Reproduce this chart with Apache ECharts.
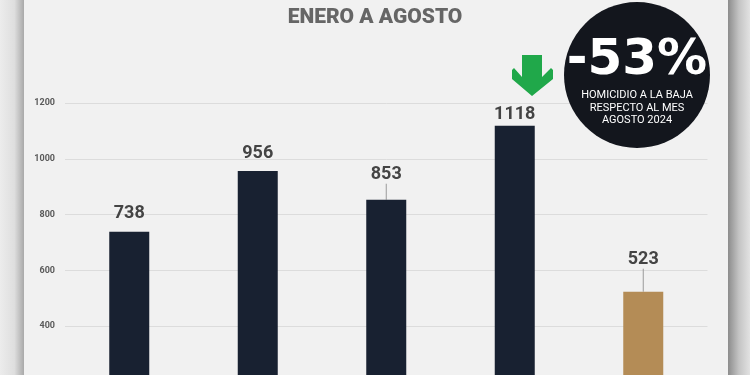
<!DOCTYPE html>
<html>
<head>
<meta charset="utf-8">
<style>
  html, body { margin: 0; padding: 0; background: #f1f1f1; }
  #chart { width: 750px; height: 375px; }
</style>
<script src="https://cdn.jsdelivr.net/npm/echarts@6/dist/echarts.min.js"></script>
</head>
<body>
<div id="chart"></div>
<script>
// ---- data ----
const categories = ['2021', '2022', '2023', '2024', '2025'];
const homicidios = [738, 956, 853, 1118, 523];
const yTickLabels = ['0', '200', '400', '600', '800', '1000', '1200'];
const titleText = 'ENERO A AGOSTO';
const badgeValue = '-53%';
const badgeLines = ['HOMICIDIO A LA BAJA', 'RESPECTO AL MES', 'AGOSTO 2024'];

// ---- style ----
const NAVY = '#182131';
const GOLD = '#b48c56';
const labelShift = [7, 7, 14, 0, 21];
const leaderLine = [false, false, true, false, true];
const highlightIndex = 4;

const chart = echarts.init(document.getElementById('chart'), null, { renderer: 'canvas' });

const barData = homicidios.map((v, i) => ({
  value: v,
  itemStyle: { color: i === highlightIndex ? GOLD : NAVY },
  labelLine: { show: leaderLine[i] }
}));

const option = {
  backgroundColor: '#f1f1f1',
  animation: false,
  title: {
    text: titleText,
    left: 'center',
    top: 2,
    textStyle: { fontFamily: 'Roboto', fontWeight: 900, fontSize: 21, color: '#666666' }
  },
  grid: { left: 65, right: 42.5, top: 103, bottom: -62.5, outerBoundsMode: 'none' },
  xAxis: {
    type: 'category',
    data: categories,
    axisLine: { show: false },
    axisTick: { show: false },
    axisLabel: { show: false }
  },
  yAxis: {
    type: 'value',
    min: 0,
    max: 1200,
    interval: 200,
    axisLine: { show: false },
    axisTick: { show: false },
    axisLabel: {
      margin: 10,
      fontFamily: 'Roboto',
      fontWeight: 'bold',
      fontSize: 9,
      color: '#5a5a5a',
      formatter: (v) => yTickLabels[Math.round(v / 200)] ?? String(v)
    },
    splitLine: { lineStyle: { color: '#dcdcdc', width: 1 } }
  },
  series: [{
    type: 'bar',
    data: barData,
    barWidth: 40,
    label: {
      show: true,
      position: 'top',
      distance: 2,
      fontFamily: 'Roboto',
      fontWeight: 'bold',
      fontSize: 18,
      color: '#444444'
    },
    labelLayout: (params) => ({ dy: -labelShift[params.dataIndex] }),
    labelLine: { show: false, lineStyle: { color: '#9a9a9a', width: 1 } }
  }],
  graphic: [
    {
      type: 'rect', z: 100, shape: { x: 0, y: 0, width: 24, height: 375 },
      style: { fill: new echarts.graphic.LinearGradient(0, 0, 1, 0, [
        { offset: 0, color: '#ececec' }, { offset: 0.6, color: '#dedede' }, { offset: 1, color: '#a9a9a9' }
      ]) }
    },
    {
      type: 'rect', z: 100, shape: { x: 728, y: 0, width: 22, height: 375 },
      style: { fill: new echarts.graphic.LinearGradient(0, 0, 1, 0, [
        { offset: 0, color: '#8c8c8c' }, { offset: 0.5, color: '#c4c4c4' }, { offset: 1, color: '#e2e2e2' }
      ]) }
    },
    {
      type: 'circle', z: 100, shape: { cx: 637, cy: 75, r: 73 },
      style: { fill: '#13161d' }
    },
    {
      type: 'text', z: 101, x: 637, y: 61,
      style: { text: badgeValue, fill: '#ffffff', font: 'bold 50px "DejaVu Sans"', align: 'center', verticalAlign: 'middle' }
    },
    {
      type: 'text', z: 101, x: 637, y: 108,
      style: {
        text: badgeLines.join('\n'), fill: '#ffffff', font: '11px "Liberation Sans Narrow", Roboto',
        align: 'center', verticalAlign: 'middle', lineHeight: 12.5
      }
    },
    {
      type: 'polygon', z: 100,
      shape: { points: [[522, 55], [542, 55], [542, 77], [551, 68], [553, 70], [553, 79], [532, 96], [512, 79], [512, 70], [514, 68], [522, 77]] },
      style: { fill: '#20a84a' }
    }
  ]
};

chart.setOption(option);
</script>
</body>
</html>
